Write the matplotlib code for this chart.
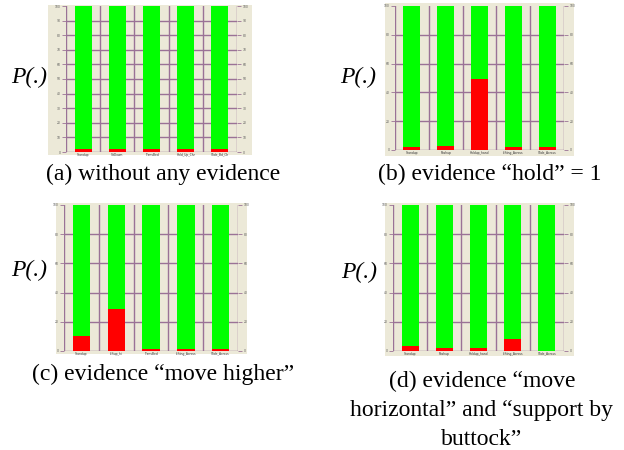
import numpy as np
import matplotlib.pyplot as plt

# ---------- data ----------
categories_a = ["Standup", "SitDown", "TransBed", "Hold_Up_Chr", "Slide_Bd_Ch"]
categories_b = ["Standup", "Pushup", "Holdup_hand", "Lifting_Across", "Slide_Across"]
categories_c = ["Standup", "Liftup_hi", "TransBed", "Lifting_Across", "Slide_Across"]
categories_d = ["Standup", "Pushup", "Holdup_hand", "Lifting_Across", "Slide_Across"]

# probability (%) of state "true" (red) per node; rest is "false" (green)
p_true_a = [2, 2, 2, 2, 2]
p_true_b = [2, 3, 49, 2, 2]
p_true_c = [10, 28.5, 1.6, 1.6, 1.6]
p_true_d = [3.5, 2, 2, 8, 0.3]

captions = ["(a) without any evidence",
            "(b) evidence \u201chold\u201d = 1",
            "(c) evidence \u201cmove higher\u201d",
            "(d) evidence \u201cmove\nhorizontal\u201d and \u201csupport by\nbuttock\u201d"]

W, H = 624, 450
BG = "#ece9d8"
GRID = "#9a7296"
GREEN = "#00ff00"
RED = "#ff0000"

fig = plt.figure(figsize=(W / 100, H / 100), dpi=100)
plt.rcParams["font.family"] = ["Liberation Serif", "DejaVu Serif"]


def px_axes(x0, y0, x1, y1, **kw):
    # axes from pixel box (top-left origin)
    return fig.add_axes([x0 / W, 1 - y1 / H, (x1 - x0) / W, (y1 - y0) / H], **kw)


def panel(box, area, cats, p_true, step):
    bg = px_axes(*box)
    bg.set_facecolor(BG)
    bg.set_xticks([])
    bg.set_yticks([])
    for s in bg.spines.values():
        s.set_visible(False)

    ax = px_axes(*area)
    ax.patch.set_alpha(0)
    x = np.arange(len(cats)) + 0.5
    red = np.array(p_true)
    green = 100 - red
    ax.bar(x, red, width=0.5, color=RED, zorder=3)
    ax.bar(x, green, width=0.5, bottom=red, color=GREEN, zorder=3)
    ax.set_xlim(0, len(cats))
    ax.set_ylim(0, 100)
    for v in range(0, len(cats) + 1):
        ax.axvline(v, color=GRID, lw=1.0, zorder=1)
    for h in range(step, 100, step):
        ax.axhline(h, color=GRID, lw=1.0, zorder=1)
    ax.set_xticks(x)
    ax.set_xticklabels(cats, fontsize=2.2, family="DejaVu Sans", color="#333333")
    ticks = np.arange(0, 101, step)
    ax.set_yticks(ticks)
    ax.set_yticklabels([str(t) for t in ticks], fontsize=2.2, family="DejaVu Sans",
                       color="#555555")
    ax.tick_params(axis="y", length=3, width=0.6, color=GRID, pad=1,
                   left=True, right=True, labelleft=True, labelright=True)
    ax.tick_params(axis="x", length=0, pad=0.5)
    for s in ax.spines.values():
        s.set_visible(False)
    ax.axhline(0, color=GRID, lw=1.0, zorder=1)


panel((48, 5, 252, 155), (66, 6, 237, 152), categories_a, p_true_a, 10)
panel((385, 3, 574, 156), (395, 6, 564, 150), categories_b, p_true_b, 20)
panel((56, 203, 247, 354), (64, 205, 238, 351), categories_c, p_true_c, 20)
panel((385, 203, 574, 356), (393, 205, 564, 351), categories_d, p_true_d, 20)

# y labels
for (px, py) in [(29, 77), (358, 77), (29, 270), (359, 272)]:
    fig.text(px / W, 1 - py / H, "P(.)", fontsize=17, style="italic",
             ha="center", va="center")

# captions
fig.text(163 / W, 1 - 180 / H, captions[0], fontsize=17, ha="center", va="baseline")
fig.text(490 / W, 1 - 180 / H, captions[1], fontsize=17, ha="center", va="baseline")
fig.text(163 / W, 1 - 380 / H, captions[2], fontsize=17, ha="center", va="baseline")
fig.text(482 / W, 1 - 445 / H, captions[3], fontsize=17, ha="center", va="baseline",
         multialignment="center", linespacing=1.5)

fig.savefig("out.png", dpi=100)
